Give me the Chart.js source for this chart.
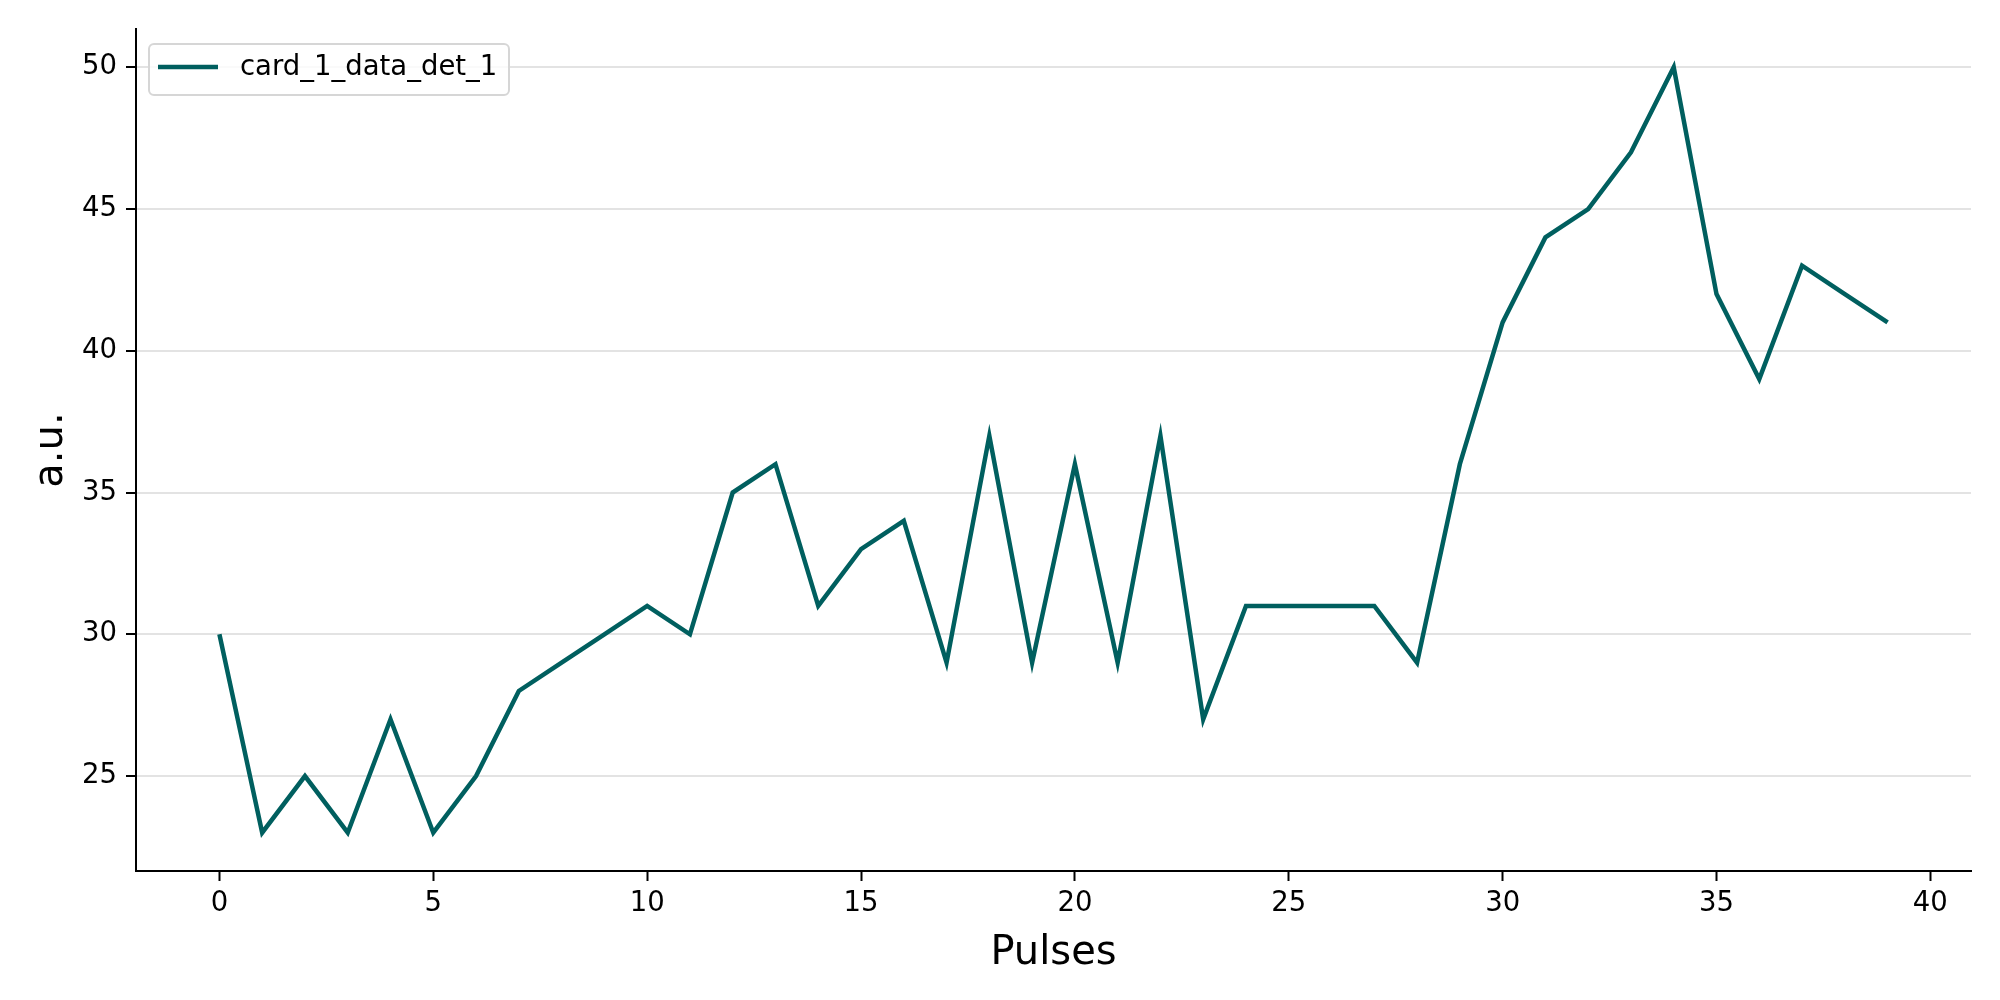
<!DOCTYPE html>
<html><head><meta charset="utf-8">
<script src="https://cdn.jsdelivr.net/npm/chart.js@4/dist/chart.umd.min.js"></script>
<style>html,body{margin:0;padding:0;background:#fff}#wrap{width:2000px;height:1000px}</style>
</head><body><div id="wrap"><canvas id="c" width="2000" height="1000"></canvas></div>
<script>
const seriesLabel = "card_1_data_det_1";
const pulses = Array.from({length: 40}, (_, i) => i);
const values = [30,23,25,23,27,23,25,28,29,30,31,30,35,36,31,33,34,29,37,29,36,29,37,27,31,31,31,31,29,36,41,44,45,47,50,42,39,43,42,41];
const xTicks = [0,5,10,15,20,25,30,35,40];
const yTicks = [25,30,35,40,45,50];
const lineColor = "#005f5f";
const FONT = "'DejaVu Sans', sans-serif";

const legendPlugin = {
  id: 'mplLegend',
  afterDraw(chart) {
    const ctx = chart.ctx;
    const x0 = 149, y0 = 44, w = 360, h = 51;
    ctx.save();
    ctx.fillStyle = 'rgba(255,255,255,0.8)';
    ctx.strokeStyle = '#d6d6d6';
    ctx.lineWidth = 2;
    const r = 5;
    ctx.beginPath();
    ctx.moveTo(x0 + r, y0);
    ctx.arcTo(x0 + w, y0, x0 + w, y0 + h, r);
    ctx.arcTo(x0 + w, y0 + h, x0, y0 + h, r);
    ctx.arcTo(x0, y0 + h, x0, y0, r);
    ctx.arcTo(x0, y0, x0 + w, y0, r);
    ctx.closePath();
    ctx.fill(); ctx.stroke();
    ctx.strokeStyle = lineColor;
    ctx.lineWidth = 4.5;
    ctx.beginPath(); ctx.moveTo(158, 67); ctx.lineTo(218, 67); ctx.stroke();
    ctx.fillStyle = '#000';
    ctx.font = '27.5px ' + FONT;
    ctx.textBaseline = 'middle';
    ctx.fillText(seriesLabel, 240, 68);
    ctx.restore();
  }
};

new Chart(document.getElementById('c'), {
  type: 'line',
  data: {
    datasets: [{
      label: seriesLabel,
      data: pulses.map((p, i) => ({x: p, y: values[i]})),
      borderColor: lineColor,
      borderWidth: 4.5,
      pointRadius: 0,
      tension: 0,
      fill: false
    }]
  },
  options: {
    responsive: false,
    animation: false,
    devicePixelRatio: 1,
    layout: {padding: {top: 29, right: 29, left: 0, bottom: 0}},
    plugins: {legend: {display: false}, tooltip: {enabled: false}},
    scales: {
      x: {
        type: 'linear', min: -1.95, max: 40.95,
        afterBuildTicks: s => { s.ticks = xTicks.map(v => ({value: v})); },
        afterFit: s => { s.height = 129; },
        grid: {drawOnChartArea: false, drawTicks: true, tickLength: 10, tickColor: '#000', tickWidth: 2},
        border: {color: '#000', width: 2},
        ticks: {color: '#000', font: {family: FONT, size: 27.5}, padding: 6, maxRotation: 0},
        title: {display: true, text: 'Pulses', color: '#000', font: {family: FONT, size: 40}, padding: {top: 0, bottom: 22}}
      },
      y: {
        type: 'linear', min: 21.65, max: 51.35,
        afterBuildTicks: s => { s.ticks = yTicks.map(v => ({value: v})); },
        afterFit: s => { s.width = 136; },
        grid: {color: '#e3e3e3', lineWidth: 2, drawTicks: true, tickLength: 10, tickColor: '#000', tickWidth: 2},
        border: {color: '#000', width: 2},
        ticks: {color: '#000', font: {family: FONT, size: 27.5}, padding: 9},
        title: {display: true, text: 'a.u.', color: '#000', font: {family: FONT, size: 40}, padding: {top: 28, bottom: 0}}
      }
    }
  },
  plugins: [legendPlugin]
});
</script></body></html>
